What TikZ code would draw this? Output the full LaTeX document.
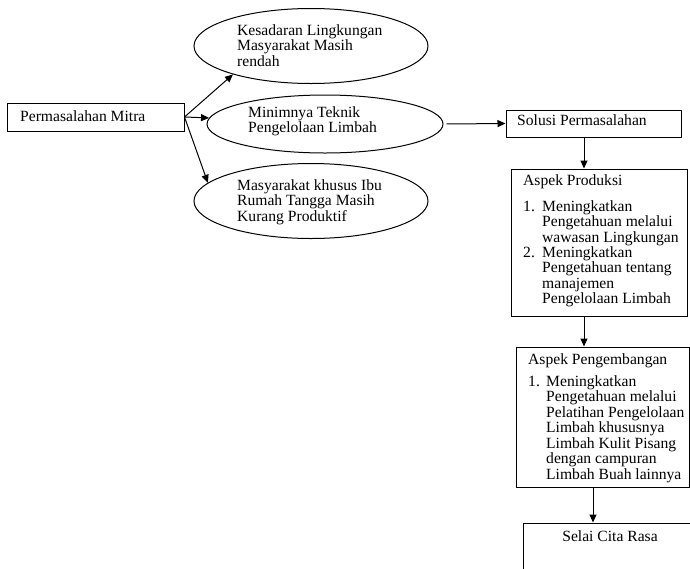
\documentclass[tikz,border=0pt]{standalone}
\usepackage{fontspec}
\setmainfont{Liberation Serif}
\usetikzlibrary{arrows.meta,shapes.geometric}
\begin{document}
\begin{tikzpicture}[x=1pt,y=-1pt,
  box/.style={draw,line width=1pt,rectangle,inner sep=0pt,anchor=center},
  oval/.style={draw,line width=1pt,ellipse,inner sep=0pt,anchor=center},
  txt/.style={anchor=base west,inner sep=0pt,align=left,font=\fontsize{15.6}{15.5}\selectfont},
  ctxt/.style={anchor=base,inner sep=0pt,font=\fontsize{15.6}{15.5}\selectfont},
  arr/.style={-{Triangle[length=8pt,width=7pt]},line width=1pt}]
\useasboundingbox (0,0) rectangle (690,568);
% left box
\node[box,minimum width=177pt,minimum height=28pt] (pm) at (95.5,117) {};
\node[txt] (pmt) at (20,121) {Permasalahan Mitra};
% ellipses (text anchored at baseline of last line)
\node[oval,minimum width=234pt,minimum height=75pt] (e1) at (311,46) {};
\node[txt] (e1t) at (237,66) {Kesadaran Lingkungan\\Masyarakat Masih\\rendah};
\node[oval,minimum width=236pt,minimum height=58pt] (e2) at (325,124) {};
\node[txt] (e2t) at (248,132.5) {Minimnya Teknik\\Pengelolaan Limbah};
\node[oval,minimum width=234pt,minimum height=75pt] (e3) at (311,201) {};
\node[txt] (e3t) at (237,221) {Masyarakat khusus Ibu\\Rumah Tangga Masih\\Kurang Produktif};
% right column
\node[box,minimum width=175pt,minimum height=27pt] (sol) at (593.5,123.5) {};
\node[txt] (solt) at (517,125) {Solusi Permasalahan};
\node[box,minimum width=176pt,minimum height=147pt] (prod) at (599,242.5) {};
\node[txt] (prodt) at (523,185) {Aspek Produksi};
\node[txt] (pn1) at (523,211) {1.};
\node[txt] (pi1) at (542,242) {Meningkatkan\\Pengetahuan melalui\\wawasan Lingkungan};
\node[txt] (pn2) at (523,257) {2.};
\node[txt] (pi2) at (542,303.5) {Meningkatkan\\Pengetahuan tentang\\manajemen\\Pengelolaan Limbah};
\node[box,minimum width=173pt,minimum height=140pt] (peng) at (602.5,417) {};
\node[txt] (pengt) at (528,364) {Aspek Pengembangan};
\node[txt] (gn1) at (528,386) {1.};
\node[txt] (gi1) at (546,479) {Meningkatkan\\Pengetahuan melalui\\Pelatihan Pengelolaan\\Limbah khususnya\\Limbah Kulit Pisang\\dengan campuran\\Limbah Buah lainnya};
\node[box,minimum width=174pt,minimum height=60pt] (sel) at (610,553) {};
\node[ctxt] (selt) at (610,541) {Selai Cita Rasa};
% connectors
\draw[arr] (pm.east) -- (e1.200);
\draw[arr] (pm.east) -- (e2.177);
\draw[arr] (pm.east) -- (e3.170);
\draw[arr] ([xshift=3pt]e2.east) -- (sol.west);
\draw[arr] ([xshift=-9.5pt]sol.south) -- ([xshift=-9.5pt]sol.south |- prod.north);
\draw[arr] ([xshift=-15pt]prod.south) -- ([xshift=-15pt]prod.south |- peng.north);
\draw[arr] ([xshift=-9.5pt]peng.south) -- ([xshift=-9.5pt]peng.south |- sel.north);
\end{tikzpicture}
\end{document}
